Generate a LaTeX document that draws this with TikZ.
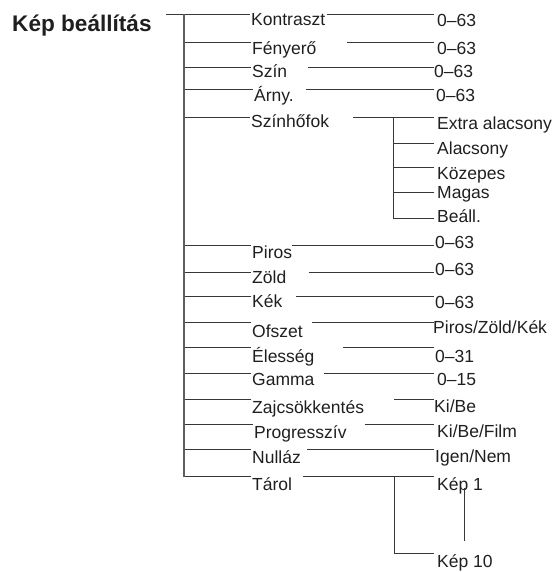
\documentclass[tikz,border=0pt]{standalone}
\usepackage{fontspec}
\setmainfont{Liberation Sans}
\usetikzlibrary{positioning}
\definecolor{LineGrey}{RGB}{55,55,55}
\definecolor{TrunkGrey}{RGB}{95,95,95}

\begin{document}
\begin{tikzpicture}[x=1pt, y=-1pt,
    item/.style={anchor=base west, inner sep=0pt, text=black!88,
                 font=\fontsize{17.5}{20}\selectfont},
    branch/.style={draw=LineGrey, line width=0.9pt},
    trunk/.style={draw=TrunkGrey, line width=1.6pt}]
  \useasboundingbox (0,0) rectangle (555,572);

  % title and its line
  \node[item, font=\fontsize{22.6}{26}\selectfont\bfseries] (title) at (12,31.5) {Kép beállítás};
  \coordinate (top) at (166,14.5);

  % menu rows: line y / label x / label / baseline / right line x / value / value x / baseline
  \foreach \ly/\lx/\lab/\lb/\rx/\val/\vx/\vb [count=\i] in {
      14.5/251/Kontraszt/25.5/327/0–63/437/27,
      42/252/Fényerő/55/347/0–63/437/55,
      67/252/Szín/78/308/0–63/434/78,
      89/254/Árny./102/306/0–63/436/102,
      117.5/251/Színhőfok/128/353/Extra alacsony/437/130,
      245/252/Piros/258/292/0–63/435/248,
      272/252/Zöld/283/309/0–63/435/275,
      296/252/Kék/307/296/0–63/435/308,
      322/252/Ofszet/337/312/{Piros/Zöld/Kék}/433/333,
      347/252/Élesség/362/343/0–31/435/362,
      373/252/Gamma/385/324/0–15/437/385,
      399/252/Zajcsökkentés/413/394/{Ki/Be}/434/412,
      424/254/Progresszív/438/365/{Ki/Be/Film}/437/437,
      449/252/Nulláz/463/307/{Igen/Nem}/435/462,
      476.5/252/Tárol/490/303/Kép 1/437/490} {
    \coordinate (t\i) at (184,\ly);
    \coordinate (l\i) at (\lx-1.5,\ly);
    \coordinate (r\i) at (\rx,\ly);
    \coordinate (e\i) at (433.5,\ly);
    \node[item] (lab\i) at (\lx,\lb) {\lab};
    \node[item] (val\i) at (\vx,\vb) {\val};
    \draw[branch] (t\i) -- (l\i);
    \draw[branch] (r\i) -- (e\i);
  }
  \draw[branch] (top) -- (t1);
  \draw[trunk] (t1) -- (t15);

  % colour temperature choices
  \coordinate (hofok) at (393,117.5);
  \foreach \sy/\sname/\sb [count=\j] in {
      143/Alacsony/155, 167/Közepes/179, 192/Magas/198.5, 218/Beáll./222.5} {
    \coordinate (s\j) at (393,\sy);
    \coordinate (se\j) at (433.5,\sy);
    \node[item] (sub\j) at (437,\sb) {\sname};
    \draw[branch] (s\j) -- (se\j);
  }
  \draw[branch] (hofok) -- (s4);

  % memory slots
  \coordinate (mem) at (394,476.5);
  \coordinate (mem10) at (394,553);
  \coordinate (mem10e) at (433.5,553);
  \node[item] (kep10) at (437,567) {Kép 10};
  \draw[branch] (mem) -- (mem10) -- (mem10e);
  \coordinate (kfel) at (464,488);
  \coordinate (kle) at (464,541);
  \draw[branch] (kfel) -- (kle);

\end{tikzpicture}
\end{document}
